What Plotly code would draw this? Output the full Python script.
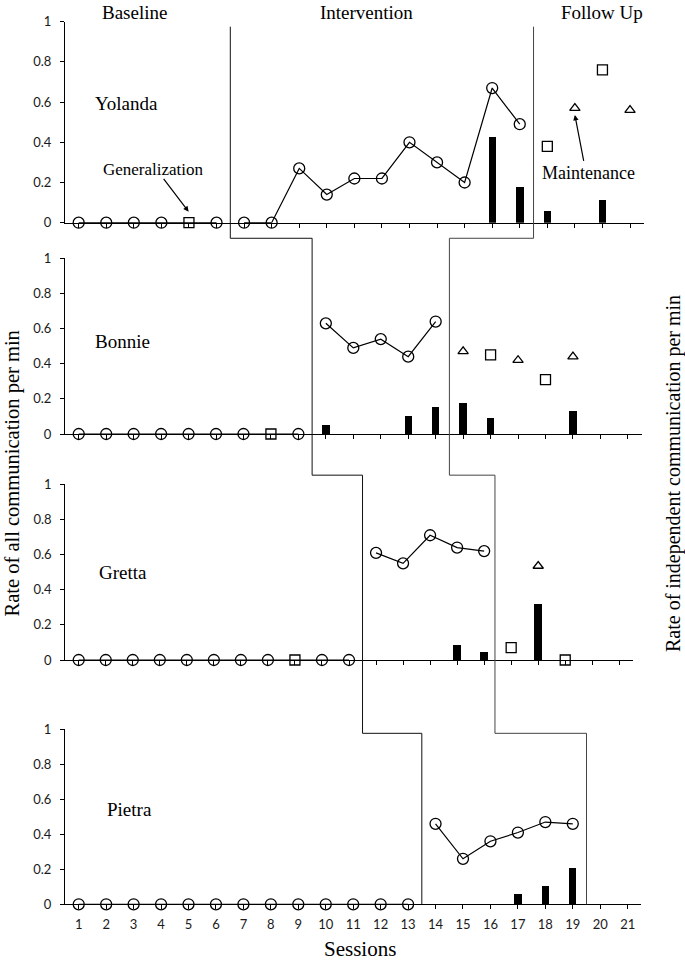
import plotly.graph_objects as go

# ---------------- data ----------------
session_ticks = list(range(1, 22))
rate_ticks = [0, 0.2, 0.4, 0.6, 0.8, 1]
participants = ["Yolanda", "Bonnie", "Gretta", "Pietra"]

# Yolanda
yol_base_x = [1, 2, 3, 4, 6]
yol_base_y = [0, 0, 0, 0, 0]
yol_int_x = [7, 8, 9, 10, 11, 12, 13, 14, 15, 16, 17]
yol_int_y = [0, 0, 0.27, 0.14, 0.22, 0.22, 0.40, 0.30, 0.20, 0.67, 0.49]
yol_gen_x = [5, 18, 20]
yol_gen_y = [0, 0.38, 0.76]
yol_mnt_x = [19, 21]
yol_mnt_y = [0.57, 0.56]
yol_ind_x = [16, 17, 18, 20]
yol_ind_y = [0.43, 0.18, 0.06, 0.115]

# Bonnie
bon_base_x = [1, 2, 3, 4, 5, 6, 7, 9]
bon_base_y = [0, 0, 0, 0, 0, 0, 0, 0]
bon_int_x = [10, 11, 12, 13, 14]
bon_int_y = [0.63, 0.49, 0.54, 0.44, 0.64]
bon_gen_x = [8, 16, 18]
bon_gen_y = [0, 0.45, 0.31]
bon_mnt_x = [15, 17, 19]
bon_mnt_y = [0.47, 0.42, 0.44]
bon_ind_x = [10, 13, 14, 15, 16, 19]
bon_ind_y = [0.05, 0.10, 0.15, 0.175, 0.09, 0.13]

# Gretta
gre_base_x = [1, 2, 3, 4, 5, 6, 7, 8, 10, 11]
gre_base_y = [0, 0, 0, 0, 0, 0, 0, 0, 0, 0]
gre_int_x = [12, 13, 14, 15, 16]
gre_int_y = [0.61, 0.55, 0.71, 0.64, 0.62]
gre_gen_x = [9, 17, 19]
gre_gen_y = [0, 0.07, 0]
gre_mnt_x = [18]
gre_mnt_y = [0.535]
gre_ind_x = [15, 16, 18]
gre_ind_y = [0.085, 0.045, 0.315]

# Pietra
pie_base_x = [1, 2, 3, 4, 5, 6, 7, 8, 9, 10, 11, 12, 13]
pie_base_y = [0, 0, 0, 0, 0, 0, 0, 0, 0, 0, 0, 0, 0]
pie_int_x = [14, 15, 16, 17, 18, 19]
pie_int_y = [0.46, 0.26, 0.36, 0.41, 0.47, 0.46]
pie_gen_x = []
pie_gen_y = []
pie_mnt_x = []
pie_mnt_y = []
pie_ind_x = [17, 18, 19]
pie_ind_y = [0.057, 0.103, 0.203]

# phase-change sessions (between sessions), per panel
phase_a = [6.5, 9.5, 11.5, 13.5]
phase_b = [17.5, 14.5, 16.4, 19.5]

# ---------------- layout geometry ----------------
W, H = 685, 962
X_RANGE = [0.5, 21.5]


def pdom(top_px, bot_px):
    return [1 - bot_px / H, 1 - top_px / H]


def xdom(left_px, right_px):
    return [left_px / W, right_px / W]


X_DOMS = [xdom(64.9, 643.8), xdom(65, 641.6), xdom(65.2, 632.8), xdom(65, 641.4)]
Y_DOMS = [pdom(21.7, 222.7), pdom(258.3, 434), pdom(484.3, 660), pdom(729.3, 904.3)]


def px(i, s):
    d = X_DOMS[i]
    return d[0] + (s - X_RANGE[0]) / (X_RANGE[1] - X_RANGE[0]) * (d[1] - d[0])


def py(i, v):
    d = Y_DOMS[i]
    return d[0] + v * (d[1] - d[0])


panels = [
    (yol_base_x, yol_base_y, yol_int_x, yol_int_y, yol_gen_x, yol_gen_y, yol_mnt_x, yol_mnt_y, yol_ind_x, yol_ind_y),
    (bon_base_x, bon_base_y, bon_int_x, bon_int_y, bon_gen_x, bon_gen_y, bon_mnt_x, bon_mnt_y, bon_ind_x, bon_ind_y),
    (gre_base_x, gre_base_y, gre_int_x, gre_int_y, gre_gen_x, gre_gen_y, gre_mnt_x, gre_mnt_y, gre_ind_x, gre_ind_y),
    (pie_base_x, pie_base_y, pie_int_x, pie_int_y, pie_gen_x, pie_gen_y, pie_mnt_x, pie_mnt_y, pie_ind_x, pie_ind_y),
]

fig = go.Figure()
BLACK = "#000000"
SERIF = "Liberation Serif"
TICKFONT = dict(family="Lato", size=13, color="#1a1a1a")

for i, (bx, by, ix, iy, gx, gy, mx, my, dx, dy) in enumerate(panels):
    xa = "x" if i == 0 else f"x{i+1}"
    ya = "y" if i == 0 else f"y{i+1}"
    fig.add_trace(go.Bar(x=dx, y=dy, width=0.27, marker=dict(color=BLACK, line=dict(width=0)),
                         xaxis=xa, yaxis=ya, showlegend=False))
    fig.add_trace(go.Scatter(x=bx, y=by, mode="lines+markers", xaxis=xa, yaxis=ya, showlegend=False,
                             line=dict(color=BLACK, width=1.2), cliponaxis=False,
                             marker=dict(symbol="circle-open", size=11, color=BLACK, line=dict(width=1.3))))
    fig.add_trace(go.Scatter(x=ix, y=iy, mode="lines+markers", xaxis=xa, yaxis=ya, showlegend=False,
                             line=dict(color=BLACK, width=1.2), cliponaxis=False,
                             marker=dict(symbol="circle-open", size=11, color=BLACK, line=dict(width=1.3))))
    if gx:
        fig.add_trace(go.Scatter(x=gx, y=gy, mode="markers", xaxis=xa, yaxis=ya, showlegend=False,
                                 cliponaxis=False,
                                 marker=dict(symbol="square-open", size=10, color=BLACK, line=dict(width=1.3))))
    if mx:
        fig.add_trace(go.Scatter(x=mx, y=my, mode="markers", xaxis=xa, yaxis=ya, showlegend=False,
                                 cliponaxis=False,
                                 marker=dict(symbol="triangle-up-open", size=9, color=BLACK, line=dict(width=1.3))))

    fig.layout[f"xaxis{'' if i == 0 else i+1}"] = dict(
        domain=X_DOMS[i], range=X_RANGE, anchor=ya, tickmode="array", tickvals=session_ticks,
        showticklabels=(i == 3), ticks="outside", ticklen=4, tickwidth=1, tickcolor=BLACK,
        showline=True, linecolor=BLACK, linewidth=1, showgrid=False, zeroline=False,
        tickfont=TICKFONT, ticklabelstandoff=4, automargin=False)
    fig.layout[f"yaxis{'' if i == 0 else i+1}"] = dict(
        domain=Y_DOMS[i], range=[0, 1], anchor=xa, tickmode="array", tickvals=rate_ticks,
        ticks="outside", ticklen=4, tickwidth=1, tickcolor=BLACK,
        showline=True, linecolor=BLACK, linewidth=1, showgrid=False, zeroline=False,
        tickfont=TICKFONT, ticklabelstandoff=6, automargin=False)

# ---------------- phase change lines ----------------
steps = [0.975, 1.114, 1.052, 0.977]  # top of line in panel 0; step levels in panels 1..3


def phase_path(xs):
    pts = [(px(0, xs[0]), py(0, steps[0]))]
    for k in range(1, 4):
        yk = py(k, steps[k])
        pts.append((px(k - 1, xs[k - 1]), yk))
        pts.append((px(k, xs[k]), yk))
    pts.append((px(3, xs[3]), py(3, 0)))
    return "M " + " L ".join(f"{a:.5f},{b:.5f}" for a, b in pts)


fig.add_shape(type="path", path=phase_path(phase_a), xref="paper", yref="paper",
              line=dict(color="#111111", width=1))
fig.add_shape(type="path", path=phase_path(phase_b), xref="paper", yref="paper",
              line=dict(color="#444444", width=1))

# ---------------- text ----------------
ann = []
for name, (x0, y0), xa, ya in zip(participants, [(1.52, 0.595), (1.51, 0.525), (1.66, 0.50), (1.96, 0.543)],
                                  ["x", "x2", "x3", "x4"], ["y", "y2", "y3", "y4"]):
    ann.append(dict(text=name, x=x0, y=y0, xref=xa, yref=ya, xanchor="left", yanchor="middle",
                    showarrow=False, font=dict(family=SERIF, size=19, color=BLACK)))

for txt, xc in [("Baseline", 134), ("Intervention", 366.7), ("Follow Up", 602)]:
    ann.append(dict(text=txt, x=xc / W, y=1 - 13 / H, xref="paper", yref="paper", xanchor="center",
                    yanchor="middle", showarrow=False, font=dict(family=SERIF, size=19, color=BLACK)))

# labels and arrows (arrow tail/head given in Yolanda's data coordinates)
ann.append(dict(text="Generalization", x=3.72, y=0.266, xref="x", yref="y", showarrow=False,
                xanchor="center", yanchor="middle", font=dict(family=SERIF, size=17, color=BLACK)))
ann.append(dict(text="", x=4.99, y=0.055, xref="x", yref="y", ax=4.04, ay=0.225, axref="x", ayref="y",
                showarrow=True, arrowhead=2, arrowsize=0.9, arrowwidth=1.2, arrowcolor=BLACK, standoff=0))
ann.append(dict(text="Maintenance", x=19.5, y=0.246, xref="x", yref="y", showarrow=False,
                xanchor="center", yanchor="middle", font=dict(family=SERIF, size=18, color=BLACK)))
ann.append(dict(text="", x=19.0, y=0.536, xref="x", yref="y", ax=19.33, ay=0.30, axref="x", ayref="y",
                showarrow=True, arrowhead=2, arrowsize=0.9, arrowwidth=1.2, arrowcolor=BLACK, standoff=0))

ann.append(dict(text="Sessions", x=360 / W, y=1 - 949 / H, xref="paper", yref="paper", showarrow=False,
                xanchor="center", yanchor="middle", font=dict(family=SERIF, size=21, color=BLACK)))
ann.append(dict(text="Rate of all communication per min", x=11.5 / W, y=1 - 474 / H, xref="paper",
                yref="paper", showarrow=False, textangle=-90, xanchor="center", yanchor="middle",
                font=dict(family=SERIF, size=20.5, color=BLACK)))
ann.append(dict(text="Rate of independent communication per min", x=673 / W, y=1 - 474 / H, xref="paper",
                yref="paper", showarrow=False, textangle=-90, xanchor="center", yanchor="middle",
                font=dict(family=SERIF, size=20, color=BLACK)))

fig.update_layout(width=W, height=H, margin=dict(l=0, r=0, t=0, b=0, pad=0, autoexpand=False),
                  plot_bgcolor="white", paper_bgcolor="white", annotations=ann, showlegend=False, bargap=0)

fig.write_html("out.html", config={"displayModeBar": False},
               post_script="document.body.style.margin='0';document.body.style.overflow='hidden';")
